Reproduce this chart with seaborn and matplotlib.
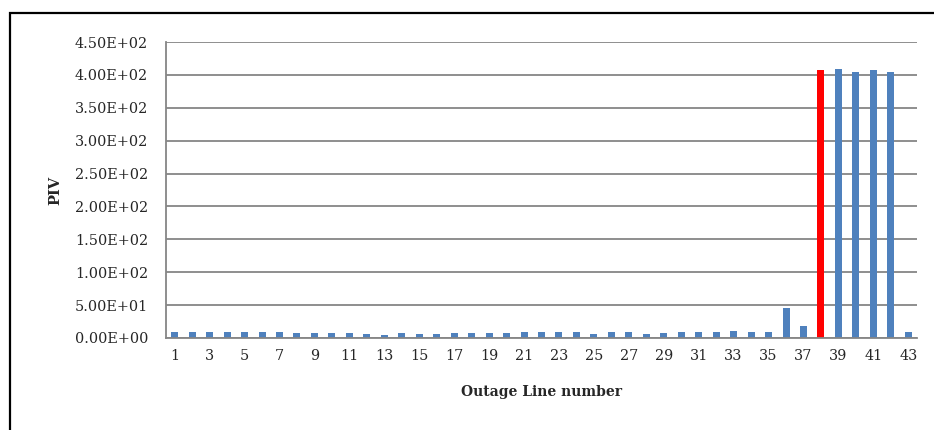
import matplotlib
matplotlib.use("Agg")
import matplotlib.pyplot as plt
import seaborn as sns
import pandas as pd
from matplotlib.patches import Rectangle

# outage line numbers and PIV values
lines = list(range(1, 44))
piv = [9.6, 9.6, 9.6, 8.6, 8.6, 8.6, 9.6, 8.1, 8.1, 8.1,
       8.1, 6.6, 5.1, 7.1, 6.1, 6.1, 7.1, 7.1, 8.1, 8.1,
       8.6, 8.6, 8.6, 8.6, 5.6, 9.1, 9.1, 6.1, 7.6, 8.6,
       8.6, 8.6, 10.1, 8.6, 8.6, 45.6, 18.2, 407.6, 408.3, 405.0,
       406.8, 404.6, 9.1]
highlight = 38
yticks = [0, 50, 100, 150, 200, 250, 300, 350, 400, 450]

df = pd.DataFrame({"line": [str(n) for n in lines], "piv": piv})
colors = {str(n): ("#FF0000" if n == highlight else "#4F81BD") for n in lines}

sns.set_style("white")
plt.rcParams["font.family"] = ["DejaVu Serif"]

fig = plt.figure(figsize=(9.34, 4.30), dpi=100)
ax = fig.add_axes([0.1777, 0.2140, 0.8041, 0.6883])

sns.barplot(data=df, x="line", y="piv", hue="line", palette=colors,
            legend=False, width=0.4, saturation=1, linewidth=0, ax=ax)

ax.set_ylim(0, 450)
ax.set_xlim(-0.5, len(lines) - 0.5)
ax.set_yticks(yticks)
ax.set_yticklabels(["{:.2E}".format(v) for v in yticks])
ax.set_xticks(range(0, len(lines), 2))
ax.set_xticklabels([str(n) for n in lines[::2]])
ax.yaxis.grid(True, color="#868686", linewidth=1.3)
ax.set_axisbelow(True)
ax.tick_params(axis="y", length=0, pad=13, labelsize=10.4)
ax.tick_params(axis="x", length=0, pad=8, labelsize=10.4)

for s in ["top", "right"]:
    ax.spines[s].set_visible(False)
for s in ["left", "bottom"]:
    ax.spines[s].set_color("#868686")
    ax.spines[s].set_linewidth(1.3)

ax.set_xlabel("Outage Line number", fontweight="bold", fontsize=10, labelpad=16)
ax.set_ylabel("PIV", fontweight="bold", fontsize=10.5, labelpad=9)

# outer chart frame, running off the right and bottom edges
fig.add_artist(Rectangle((10 / 934, -0.05), 1.1, 1 - 13 / 430 + 0.05,
                         transform=fig.transFigure, fill=False,
                         edgecolor="black", linewidth=1.6))

fig.savefig("out.png", dpi=100)
